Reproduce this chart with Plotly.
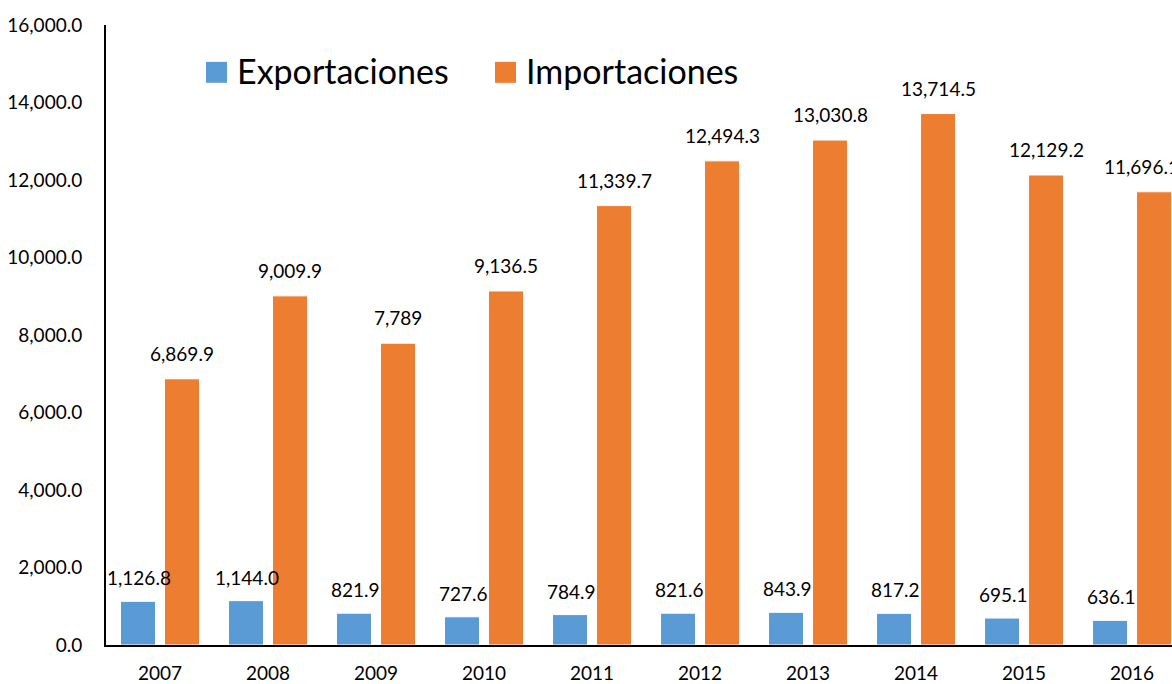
import plotly.graph_objects as go

anios = ["2007", "2008", "2009", "2010", "2011", "2012", "2013", "2014", "2015", "2016"]
exportaciones = [1126.8, 1144.0, 821.9, 727.6, 784.9, 821.6, 843.9, 817.2, 695.1, 636.1]
importaciones = [6869.9, 9009.9, 7789.0, 9136.5, 11339.7, 12494.3, 13030.8, 13714.5, 12129.2, 11696.1]
etiquetas_exp = ["1,126.8", "1,144.0", "821.9", "727.6", "784.9", "821.6", "843.9", "817.2", "695.1", "636.1"]
etiquetas_imp = ["6,869.9", "9,009.9", "7,789", "9,136.5", "11,339.7", "12,494.3", "13,030.8", "13,714.5", "12,129.2", "11,696.1"]

AZUL = "#5B9BD5"
NARANJA = "#ED7D31"
FUENTE = "Lato, Carlito, 'Open Sans', sans-serif"

fig = go.Figure()
fig.add_trace(go.Bar(x=anios, y=exportaciones, name="Exportaciones",
                     marker=dict(color=AZUL, line=dict(color="white", width=1))))
fig.add_trace(go.Bar(x=anios, y=importaciones, name="Importaciones",
                     marker=dict(color=NARANJA, line=dict(color="white", width=1))))

# etiquetas de datos sobre cada barra (x por índice de categoría)
anotaciones = []
for i, (v, t) in enumerate(zip(exportaciones, etiquetas_exp)):
    anotaciones.append(dict(x=i, y=v, text=t, showarrow=False, xshift=-21,
                            yanchor="bottom", yshift=10, font=dict(size=19, color="black")))
for i, (v, t) in enumerate(zip(importaciones, etiquetas_imp)):
    # la última etiqueta se corre a la izquierda, como en el original (borde derecho)
    desplazamiento = 9 if i == len(importaciones) - 1 else 22
    anotaciones.append(dict(x=i, y=v, text=t, showarrow=False, xshift=desplazamiento,
                            yanchor="bottom", yshift=12, font=dict(size=19, color="black")))

# leyenda dibujada a mano (cuadros grandes como en el original)
ALTO = 622
leyenda = [("Exportaciones", AZUL, 206), ("Importaciones", NARANJA, 495)]
formas = []
for nombre, color, x0 in leyenda:
    formas.append(dict(type="rect", xref="paper", yref="paper",
                       x0=(x0 - 106) / 1066, x1=(x0 + 21 - 106) / 1066,
                       y0=(647 - 83) / ALTO, y1=(647 - 62) / ALTO,
                       fillcolor=color, line=dict(width=0)))
    anotaciones.append(dict(xref="paper", yref="paper", x=(x0 + 29 - 106) / 1066,
                            y=(647 - 71) / ALTO, xanchor="left", yanchor="middle",
                            text=nombre, showarrow=False, font=dict(size=34, color="black")))

fig.update_layout(
    width=1172, height=684,
    margin=dict(l=106, r=0, t=25, b=37),
    paper_bgcolor="white", plot_bgcolor="white",
    font=dict(family=FUENTE, color="black"),
    barmode="group", bargap=0.185, bargroupgap=0.205,
    showlegend=False,
    annotations=anotaciones,
    shapes=formas,
)
fig.update_xaxes(type="category", range=[-0.5, 9.37], showline=True, linecolor="black",
                 linewidth=2, ticks="", tickfont=dict(size=19), ticklabelstandoff=10,
                 showgrid=False)
fig.update_yaxes(range=[0, 16000], dtick=2000, tickformat=",.1f", showline=True,
                 linecolor="black", linewidth=2, ticks="", tickfont=dict(size=19),
                 ticklabelstandoff=18, showgrid=False, zeroline=False)

# sin margen del body para que la figura ocupe exactamente la ventana
fig.write_html("out.html", config={"displayModeBar": False},
               post_script="document.body.style.margin='0';")
